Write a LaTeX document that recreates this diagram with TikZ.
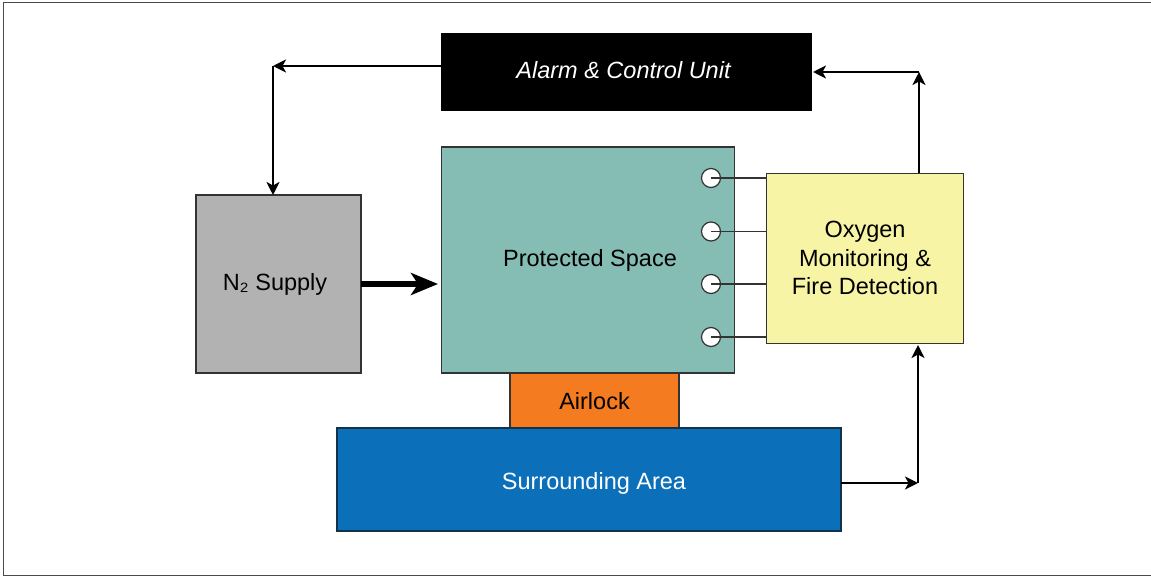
\documentclass[tikz,border=0pt]{standalone}
\usepackage{fontspec}
\setmainfont{Liberation Sans}
\usetikzlibrary{arrows.meta}
\definecolor{framegray}{HTML}{4A4A4A}
\definecolor{edgegray}{HTML}{333333}
\definecolor{tealfill}{HTML}{85BCB4}
\definecolor{yellowfill}{HTML}{F8F4A6}
\definecolor{grayfill}{HTML}{B2B2B2}
\definecolor{orangefill}{HTML}{F47B20}
\definecolor{bluefill}{HTML}{0B6FBA}
\definecolor{blueedge}{HTML}{12324A}
\tikzset{
  x=1pt,y=-1pt,
  box/.style={draw=edgegray,line width=1.1pt,anchor=north west,inner sep=0pt,outer sep=0pt},
  lbl/.style={inner sep=0pt,font=\fontsize{23.5}{28.5}\selectfont,align=center,text=black},
  sensorc/.style={circle,draw=edgegray,fill=white,line width=1.2pt,minimum size=19pt,inner sep=0pt,outer sep=0pt},
  wire/.style={draw=edgegray,line width=1.4pt},
  flow/.style={draw=black,line width=2.8pt,-{Stealth[length=13pt,width=13pt,inset=3.5pt]}},
  bigflow/.style={draw=black,line width=5.5pt,-{Stealth[length=27pt,width=22pt,inset=7pt]}},
}
\begin{document}
\begin{tikzpicture}
\useasboundingbox (0,0) rectangle (1151,577);
\draw[framegray,line width=1.5pt] (1151,2.5) -- (3.5,2.5) -- (3.5,575.5) -- (1151,575.5);

\node[box,fill=black,draw=black,line width=0.4pt,minimum width=370pt,minimum height=77pt] (alarm) at (441,33) {};
\node[box,fill=tealfill,minimum width=293pt,minimum height=226pt] (space) at (441.5,147) {};
\node[box,fill=yellowfill,minimum width=197pt,minimum height=170pt] (oxy) at (766.5,173.5) {};
\node[box,fill=grayfill,minimum width=165pt,minimum height=178pt] (supply) at (196,195) {};
\node[box,fill=orangefill,minimum width=169pt,minimum height=55pt] (airlock) at (510,373) {};
\node[box,fill=bluefill,draw=blueedge,minimum width=504pt,minimum height=103pt] (area) at (337,428) {};

\node[lbl,text=white,font=\fontsize{23.5}{28.5}\selectfont\itshape] (alarmt) at (623.5,70) {Alarm \& Control Unit};
\node[lbl] (spacet) at (590,260) {Protected Space};
\node[lbl] (oxyt) at (865,258) {Oxygen\\Monitoring \&\\Fire Detection};
\node[lbl] (supplyt) at (275,284) {N₂ Supply};
\node[lbl] (airlockt) at (594.5,401) {Airlock};
\node[lbl,text=white] (areat) at (594,483) {Surrounding Area};

\node[sensorc] (s1) at (711,178) {};
\node[sensorc] (s2) at (711,231.5) {};
\node[sensorc] (s3) at (711,284) {};
\node[sensorc] (s4) at (711,337) {};
\foreach \s in {s1,s2,s3,s4} \draw[wire] (\s.center) -- (oxy.west |- \s.center);

\coordinate (tl) at (273,66);
\coordinate (tr) at (919,72);
\coordinate (br) at (918,483);
\coordinate (alarmin) at (813,72);
\coordinate (oxyin) at (918,345);
\coordinate (spacein) at (438,284);

\draw[flow] (alarm.west |- tl) -- (tl);
\draw[flow] (tl) -- (tl |- supply.north);
\draw[bigflow] (supply.east |- spacein) -- (spacein);
\draw[flow] (tr |- oxy.north) -- (tr);
\draw[flow] (tr) -- (alarmin);
\draw[flow] (area.east |- br) -- (br);
\draw[flow] (br) -- (oxyin);
\end{tikzpicture}
\end{document}
